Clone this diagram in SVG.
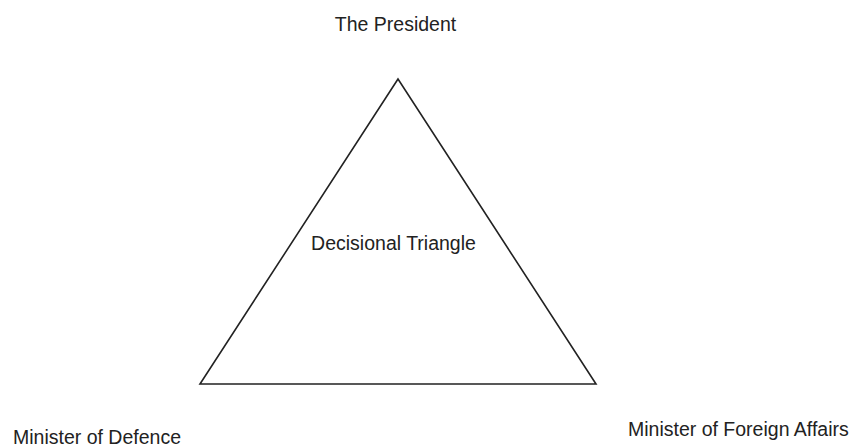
<svg xmlns="http://www.w3.org/2000/svg" width="853" height="447" viewBox="0 0 853 447">
<style>
.lbl{font-family:"Liberation Sans",Arial,sans-serif;font-size:19.5px;fill:#222}
.edge{fill:none;stroke:#222;stroke-width:1.6;stroke-linejoin:miter}
</style>
<rect width="853" height="447" fill="#fff"/>
<g id="connectors">
<polygon class="edge" points="398,79 200,384 596,384"/>
</g>
<g id="president"><text class="lbl" x="395.5" y="31" text-anchor="middle">The President</text></g>
<g id="triangle-label"><text class="lbl" x="393.5" y="250" text-anchor="middle">Decisional Triangle</text></g>
<g id="defence"><text class="lbl" x="13" y="444">Minister of Defence</text></g>
<g id="foreign"><text class="lbl" x="628" y="436">Minister of Foreign Affairs</text></g>
</svg>
